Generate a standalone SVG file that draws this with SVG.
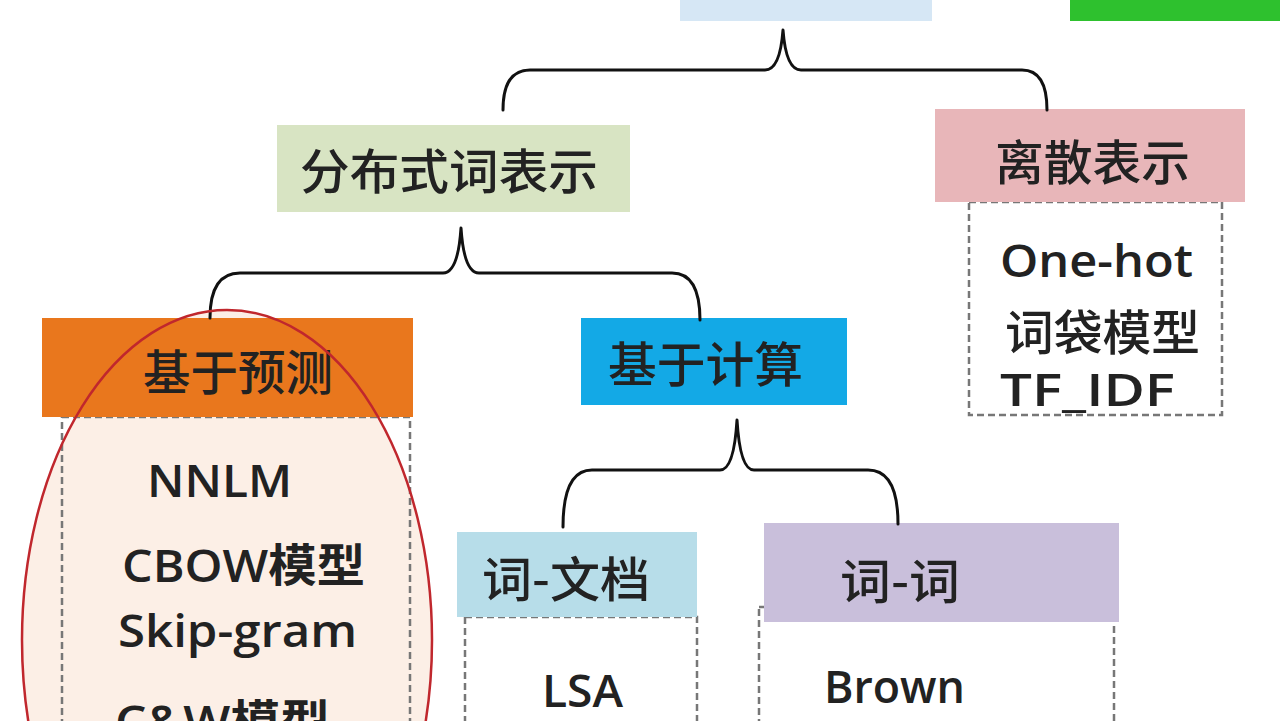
<svg xmlns="http://www.w3.org/2000/svg" width="1280" height="721" viewBox="0 0 1280 721">
<style>
text{font-family:"Open Sans","Noto Sans CJK SC",sans-serif;fill:#222;}
.cjk{font-family:"Noto Sans CJK SC",sans-serif;font-size:48px;font-weight:500;}
.lat{font-size:45px;font-weight:600;}
.dash{fill:#fff;stroke:#777;stroke-width:2.5;stroke-dasharray:7 4;}
.brace{fill:none;stroke:#111;stroke-width:3;stroke-linecap:round;stroke-linejoin:round;}
</style>
<rect width="1280" height="721" fill="#fff"/>
<ellipse id="highlight-fill" cx="227" cy="640" rx="205" ry="330" fill="#fcefe6"/>
<g id="top-node"><rect x="680" y="-10" width="252" height="31" fill="#d6e7f5"/></g>
<g id="top-right-node"><rect x="1070" y="-10" width="215" height="31" fill="#2ec12e"/></g>
<g id="distributed"><rect x="277" y="125" width="353" height="87" fill="#d8e4c3"/>
<text class="cjk" x="300" y="189" font-size="46" textLength="298" lengthAdjust="spacingAndGlyphs">分布式词表示</text></g>
<g id="discrete"><rect class="dash" x="969" y="202" width="253" height="213"/>
<rect x="935" y="109" width="310" height="93" fill="#e8b6b9"/>
<text class="cjk" x="995" y="180" textLength="195" lengthAdjust="spacingAndGlyphs">离散表示</text>
<text class="lat" x="1000" y="277" textLength="193" lengthAdjust="spacingAndGlyphs">One-hot</text>
<text class="cjk" x="1005" y="350" font-size="46" textLength="195" lengthAdjust="spacingAndGlyphs">词袋模型</text>
<text class="lat" x="1000" y="406" textLength="175" lengthAdjust="spacingAndGlyphs">TF_IDF</text></g>
<g id="predict"><rect class="dash" x="62" y="417" width="348" height="340" style="fill:none"/>
<rect x="42" y="318" width="371" height="99" fill="#e9771d"/>
<text class="cjk" x="143" y="390" textLength="190" lengthAdjust="spacingAndGlyphs">基于预测</text>
<text class="lat" x="147" y="497" textLength="145" lengthAdjust="spacingAndGlyphs">NNLM</text>
<text class="lat" x="122" y="582" textLength="243" lengthAdjust="spacingAndGlyphs">CBOW模型</text>
<text class="lat" x="118" y="647" textLength="239" lengthAdjust="spacingAndGlyphs">Skip-gram</text>
<text class="lat" x="115" y="738" textLength="215" lengthAdjust="spacingAndGlyphs">C&amp;W模型</text></g>
<g id="compute"><rect x="581" y="318" width="266" height="87" fill="#13a9e6"/>
<text class="cjk" x="608" y="382" textLength="195" lengthAdjust="spacingAndGlyphs">基于计算</text></g>
<g id="word-doc"><rect class="dash" x="465" y="617" width="232" height="140"/>
<rect x="457" y="532" width="240" height="85" fill="#b7dde9"/>
<text class="cjk" x="482" y="597" textLength="168" lengthAdjust="spacingAndGlyphs">词-文档</text>
<text class="lat" x="542" y="707" textLength="81" lengthAdjust="spacingAndGlyphs">LSA</text></g>
<g id="word-word"><rect class="dash" x="759" y="607" width="355" height="150"/>
<rect x="764" y="523" width="355" height="99" fill="#c9bfdb"/>
<text class="cjk" x="840" y="599" font-size="46" textLength="120" lengthAdjust="spacingAndGlyphs">词-词</text>
<text class="lat" x="824" y="703" textLength="141" lengthAdjust="spacingAndGlyphs">Brown</text></g>
<g id="connectors">
<path class="brace" d="M503,110 Q503,70 530,70 L765,70 Q780,70 783,30 Q786,70 801,70 L1022,70 Q1047,70 1047,110"/>
<path class="brace" d="M210,318 Q210,273 240,273 L443,273 Q458,273 461,228 Q464,273 479,273 L672,273 Q700,273 700,320"/>
<path class="brace" d="M563,527 Q563,470 592,470 L720,470 Q734,470 737,420 Q740,470 754,470 L868,470 Q898,470 898,524"/>
</g>
<ellipse id="highlight" cx="227" cy="640" rx="205" ry="330" fill="none" stroke="#c0272d" stroke-width="2.5"/>
</svg>
